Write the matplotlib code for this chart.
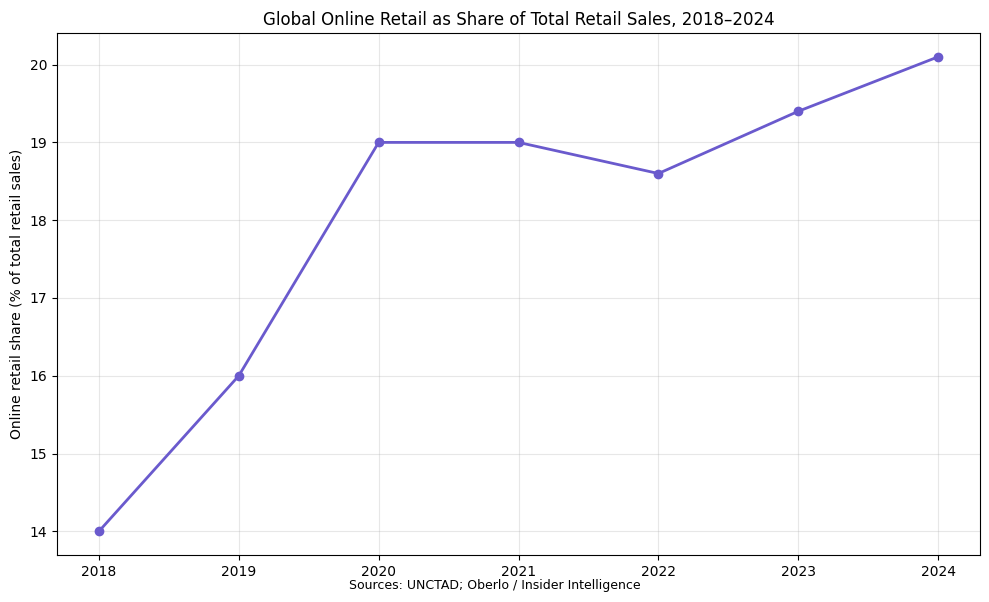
import matplotlib
matplotlib.use("Agg")
import matplotlib.pyplot as plt

years = [2018, 2019, 2020, 2021, 2022, 2023, 2024]
share = [14.0, 16.0, 19.0, 19.0, 18.6, 19.4, 20.1]

fig, ax = plt.subplots(figsize=(9.89, 6.02), dpi=100)
ax.plot(years, share, color="#6A5ACD", linewidth=2, marker="o", markersize=6)
ax.set_title("Global Online Retail as Share of Total Retail Sales, 2018\u20132024", fontsize=12)
ax.set_ylabel("Online retail share (% of total retail sales)")
ax.set_xticks(years)
ax.grid(True, alpha=0.3)
fig.text(0.5, 0.022, "Sources: UNCTAD; Oberlo / Insider Intelligence", ha="center", fontsize=9)
fig.subplots_adjust(left=0.0576, right=0.991, top=0.945, bottom=0.078)
fig.savefig("out.png", dpi=100)
